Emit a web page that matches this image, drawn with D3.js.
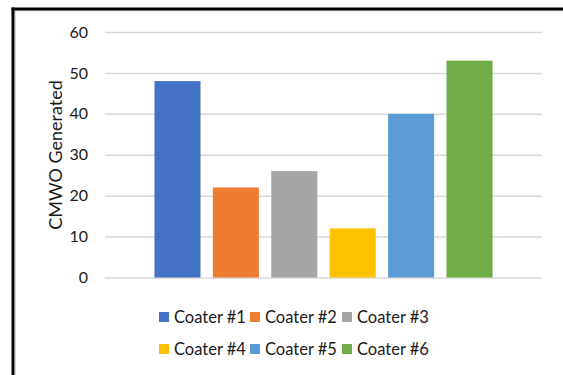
<!DOCTYPE html>
<html><head><meta charset="utf-8">
<script src="https://cdn.jsdelivr.net/npm/d3@7"></script>
<style>body{margin:0;background:#fff}svg{display:block}</style>
</head><body>
<svg id="c" width="563" height="375"></svg>
<script>
const categories = ["Coater #1","Coater #2","Coater #3","Coater #4","Coater #5","Coater #6"];
const values = [48, 22, 26, 12, 40, 53];
const colors = ["#4472C4","#ED7D31","#A5A5A5","#FFC000","#5B9BD5","#70AD47"];
const yTicks = [0,10,20,30,40,50,60];
const yLabel = "CMWO Generated";

const svg = d3.select("#c");
const font = "Lato, 'Open Sans', sans-serif";
// frame
svg.append("rect").attr("x",0).attr("y",0).attr("width",563).attr("height",375).attr("fill","#fff");
svg.append("line").attr("x1",15).attr("x2",563).attr("y1",11).attr("y2",11).attr("stroke","#d9d9d9").attr("stroke-width",1);
svg.append("line").attr("x1",15.5).attr("x2",15.5).attr("y1",11).attr("y2",375).attr("stroke","#d9d9d9").attr("stroke-width",1);
svg.append("line").attr("x1",11.5).attr("x2",563).attr("y1",9).attr("y2",9).attr("stroke","#000").attr("stroke-width",3);
svg.append("line").attr("x1",13).attr("x2",13).attr("y1",7.5).attr("y2",375).attr("stroke","#000").attr("stroke-width",3);

const x = d3.scaleBand().domain(categories).range([105,542]).paddingInner(0.212).paddingOuter(0.847);
const y = d3.scaleLinear().domain([0,60]).range([277.5,32]);

const yAxis = svg.append("g").attr("transform","translate(105,0)")
  .call(d3.axisLeft(y).tickValues(yTicks).tickSize(-437).tickPadding(17).tickFormat(d3.format("d")));
yAxis.select(".domain").remove();
yAxis.selectAll(".tick line").attr("stroke","#d9d9d9").attr("stroke-width",1.5);
yAxis.selectAll(".tick text").attr("fill","#1a1a1a").style("font-family",font).style("font-size","16px");

svg.append("g").selectAll("rect").data(categories).join("rect")
  .attr("x",d=>x(d)).attr("width",x.bandwidth())
  .attr("y",(d,i)=>y(values[i])).attr("height",(d,i)=>y(0)-y(values[i]))
  .attr("fill",(d,i)=>colors[i]);

svg.append("text").attr("transform","translate(62,155) rotate(-90)")
  .attr("text-anchor","middle").attr("fill","#1a1a1a")
  .style("font-family",font).style("font-size","18px").text(yLabel);

// legend
const legX = [159, 250, 342];
const legY = [317, 349];
const lg = svg.append("g").selectAll("g").data(categories).join("g")
  .attr("transform",(d,i)=>`translate(${legX[i%3]},${legY[Math.floor(i/3)]})`);
lg.append("rect").attr("x",0).attr("y",-5).attr("width",10).attr("height",10).attr("fill",(d,i)=>colors[i]);
lg.append("text").attr("x",15).attr("y",0).attr("dy","0.36em").attr("fill","#1a1a1a")
  .style("font-family",font).style("font-size","16.5px").text(d=>d);
</script>
</body></html>
